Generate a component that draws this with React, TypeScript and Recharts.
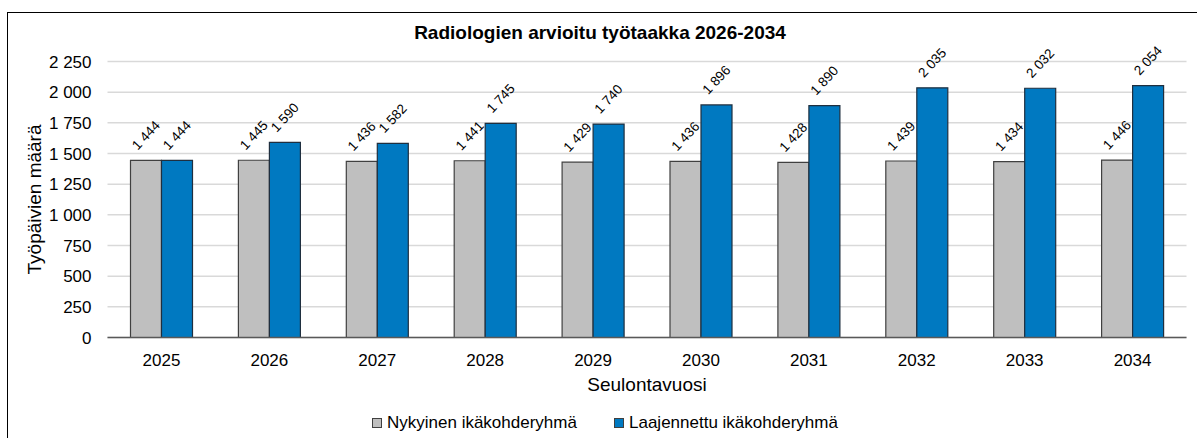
import React from "react"
import {
  BarChart,
  Bar,
  XAxis,
  YAxis,
  CartesianGrid,
  LabelList,
} from "recharts"

const years = ["2025", "2026", "2027", "2028", "2029", "2030", "2031", "2032", "2033", "2034"]
const nykyinen = [1444, 1445, 1436, 1441, 1429, 1436, 1428, 1439, 1434, 1446]
const laajennettu = [1444, 1590, 1582, 1745, 1740, 1896, 1890, 2035, 2032, 2054]
const yTicks = [0, 250, 500, 750, 1000, 1250, 1500, 1750, 2000, 2250]

const data = years.map((year, i) => ({
  year,
  nykyinen: nykyinen[i],
  laajennettu: laajennettu[i],
}))

const FONT = '"Liberation Sans", Arial, sans-serif'
const GRAY = "#BFBFBF"
const BLUE = "#0079C1"

const fmt = (v: number) => {
  const s = String(v)
  return s.length > 3 ? s.slice(0, s.length - 3) + " " + s.slice(-3) : s
}

const RotatedLabel = (props: any) => {
  const { x, y, width, value } = props
  const cx = x + width / 2
  const cy = y - 25
  return (
    <text
      x={cx}
      y={cy}
      fontSize={13.5}
      fontFamily={FONT}
      fill="#000"
      textAnchor="middle"
      dominantBaseline="central"
      transform={`rotate(-47, ${cx}, ${cy})`}
    >
      {fmt(value)}
    </text>
  )
}

const LegendItem = ({ color, text, left }: { color: string; text: string; left: number }) => (
  <div style={{ position: "absolute", left, top: 400, display: "flex", alignItems: "center" }}>
    <div style={{ width: 8, height: 8, background: color, border: "1px solid #404040", marginRight: 5 }} />
    <span style={{ fontSize: 17, lineHeight: "20px", color: "#000" }}>{text}</span>
  </div>
)

export default function App() {
  return (
    <div
      style={{
        position: "absolute",
        left: 7,
        top: 12,
        width: 1195,
        height: 440,
        border: "1.5px solid #000",
        background: "#fff",
        fontFamily: FONT,
      }}
    >
      <div
        style={{
          position: "absolute",
          left: -3,
          width: 1190,
          top: 9,
          textAlign: "center",
          fontSize: 19,
          lineHeight: "22px",
          fontWeight: "bold",
          color: "#000",
        }}
      >
        Radiologien arvioitu työtaakka 2026-2034
      </div>
      <div style={{ position: "absolute", left: 0, top: 0 }}>
        <BarChart
          width={1190}
          height={420}
          data={data}
          margin={{ top: 48.5, right: 11.5, left: 0, bottom: 35.5 }}
          barSize={31}
          barGap={0}
        >
          <CartesianGrid vertical={false} stroke="#D9D9D9" strokeWidth={1.5} />
          <XAxis
            dataKey="year"
            height={60}
            tickLine={false}
            axisLine={{ stroke: "#595959", strokeWidth: 1.5 }}
            tick={{ fontSize: 17, fill: "#000", fontFamily: FONT }}
            tickMargin={10}
            label={{
              value: "Seulontavuosi",
              position: "insideBottom",
              offset: 7,
              style: { fontSize: 19, fill: "#000", fontFamily: FONT },
            }}
          />
          <YAxis
            width={99.5}
            domain={[0, 2250]}
            ticks={yTicks}
            interval={0}
            tickFormatter={fmt}
            tickLine={false}
            axisLine={false}
            tick={{ fontSize: 17, fill: "#000", fontFamily: FONT }}
            tickMargin={10}
            label={{
              value: "Työpäivien määrä",
              angle: -90,
              position: "insideLeft",
              offset: 26,
              style: { fontSize: 19, fill: "#000", fontFamily: FONT, textAnchor: "middle" },
            }}
          />
          <Bar dataKey="nykyinen" fill={GRAY} stroke="#404040" strokeWidth={1.2} isAnimationActive={false}>
            <LabelList dataKey="nykyinen" content={RotatedLabel} />
          </Bar>
          <Bar dataKey="laajennettu" fill={BLUE} stroke="#1F2F3F" strokeWidth={1.2} isAnimationActive={false}>
            <LabelList dataKey="laajennettu" content={RotatedLabel} />
          </Bar>
        </BarChart>
      </div>
      <LegendItem color={GRAY} text="Nykyinen ikäkohderyhmä" left={364} />
      <LegendItem color={BLUE} text="Laajennettu ikäkohderyhmä" left={606} />
    </div>
  )
}
